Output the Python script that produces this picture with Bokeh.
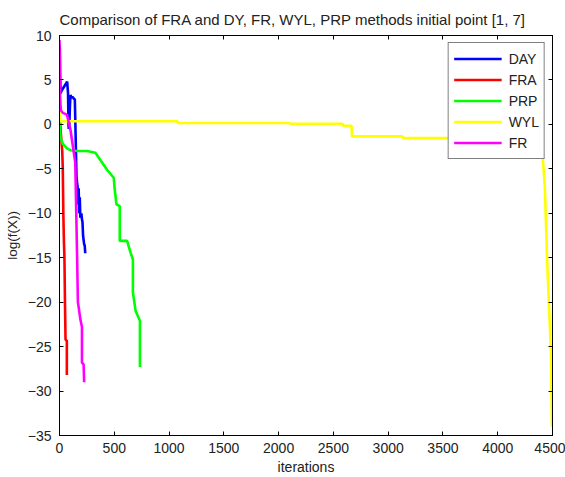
from bokeh.plotting import figure
from bokeh.models import LinearAxis, Range1d, SingleIntervalTicker, Legend, LegendItem, Title
from bokeh.embed import file_html
from bokeh.resources import INLINE

# ---- data (iterations, log(f(X))) ----
day_iter = [0, 3, 5, 10, 20, 40, 60, 70, 78, 82, 85, 90, 95, 100, 110, 120, 130, 140, 145, 150, 155, 160,
            165, 170, 175, 180, 185, 190, 200, 205, 210, 215, 220, 225, 230, 235]
day_val = [8.9, 8.5, 5.8, 3.5, 3.8, 4.2, 4.6, 4.8, 3.5, 0.0, -0.5, 0.0, 2.0, 3.3, 3.0, 3.1, 2.9, 2.8, 0.0, -3.0,
           -5.9, -6.5, -7.0, -9.0, -7.2, -10.0, -8.2, -10.5, -10.0, -10.7, -11.0, -12.5, -13.0, -13.5, -13.6, -14.5]

fra_iter = [0, 5, 15, 25, 30, 35, 40, 45, 50, 55, 62, 67, 67]
fra_val = [0.5, 0.3, -1.5, -3.0, -5.0, -10.0, -13.0, -15.0, -20.0, -24.2, -24.3, -24.3, -28.2]

prp_iter = [0, 10, 30, 68, 100, 160, 250, 327, 373, 434, 495, 502, 520, 550, 550, 617, 648, 670, 670, 695,
            734, 734]
prp_val = [0.5, -1.5, -2.2, -2.7, -2.9, -3.0, -3.0, -3.2, -4.0, -5.1, -6.0, -7.1, -9.0, -9.2, -13.1, -13.1,
           -14.4, -15.2, -18.9, -21.0, -22.1, -27.3]

wyl_iter = [0, 3, 8, 1075, 1078, 2100, 2103, 2584, 2587, 2666, 2669, 3133, 3136, 4400, 4410, 4430, 4450,
            4470, 4485, 4495]
wyl_val = [1.6, 1.0, 0.35, 0.35, 0.15, 0.15, 0.07, 0.07, -0.15, -0.15, -1.35, -1.35, -1.55, -1.55, -3.6,
           -7.0, -14.9, -21.0, -25.3, -34.0]

fr_iter = [0, 3, 5, 12, 30, 68, 100, 144, 160, 168, 180, 190, 205, 205, 220, 225]
fr_val = [9.5, 7.0, 3.1, 1.6, 1.3, 1.1, -0.6, -4.3, -14.4, -20.0, -21.0, -21.9, -22.8, -26.8, -27.0, -29.0]

series_names = ["DAY", "FRA", "PRP", "WYL", "FR"]
series_colors = ["#0000ff", "#ff0000", "#00ff00", "#ffff00", "#ff00ff"]

FONT = "Liberation Sans"
TXT = "#222222"

p = figure(width=565, height=477, x_range=Range1d(0, 4500), y_range=Range1d(-35, 10),
           output_backend="svg", toolbar_location=None,
           min_border_left=59, min_border_right=13, min_border_top=35, min_border_bottom=41)
p.title = Title(text="Comparison of FRA  and DY, FR, WYL, PRP methods initial point [1, 7]",
                text_font=FONT, text_font_size="15px", text_font_style="normal",
                align="left", offset=0, text_color=TXT, standoff=7)
p.grid.visible = False
p.outline_line_color = "black"
p.background_fill_color = "white"
p.border_fill_color = "white"

p.xaxis.ticker = SingleIntervalTicker(interval=500)
p.yaxis.ticker = SingleIntervalTicker(interval=5)
for ax in (p.xaxis[0], p.yaxis[0]):
    ax.major_tick_in = 4
    ax.major_tick_out = 0
    ax.minor_tick_line_color = None
    ax.axis_line_color = "black"
    ax.major_tick_line_color = "black"
    ax.major_label_text_font = FONT
    ax.major_label_text_font_size = "14px"
    ax.major_label_text_color = TXT
    ax.axis_label_text_font = FONT
    ax.axis_label_text_font_style = "normal"
    ax.axis_label_text_color = TXT
p.xaxis.axis_label = "iterations"
p.yaxis.axis_label = "log(f(X))"
p.xaxis.axis_label_text_font_size = "14px"
p.yaxis.axis_label_text_font_size = "13.5px"
p.xaxis.major_label_standoff = 3
p.xaxis.axis_label_standoff = 3
p.yaxis.major_label_standoff = 4
p.yaxis.axis_label_standoff = 5

for loc, tk in (("above", SingleIntervalTicker(interval=500)), ("right", SingleIntervalTicker(interval=5))):
    ax = LinearAxis(ticker=tk, major_label_text_font_size="0px", major_tick_in=4, major_tick_out=0,
                    minor_tick_line_color=None, axis_line_color="black", major_label_standoff=0)
    p.add_layout(ax, loc)

xs_all = [day_iter, fra_iter, prp_iter, wyl_iter, fr_iter]
ys_all = [day_val, fra_val, prp_val, wyl_val, fr_val]
items = []
for name, col, xs, ys in zip(series_names, series_colors, xs_all, ys_all):
    r = p.line(xs, ys, line_color=col, line_width=2.6)
    items.append(LegendItem(label=name, renderers=[r]))

leg = Legend(items=items, location="top_right", margin=7, padding=5, spacing=0,
             glyph_width=48, glyph_height=21, label_height=21, label_standoff=7,
             label_text_font=FONT, label_text_font_size="14px", label_text_color=TXT,
             border_line_color="black", border_line_width=1, background_fill_color="white",
             background_fill_alpha=1)
p.add_layout(leg, "center")

open("out.html", "w").write(file_html(p, INLINE))
